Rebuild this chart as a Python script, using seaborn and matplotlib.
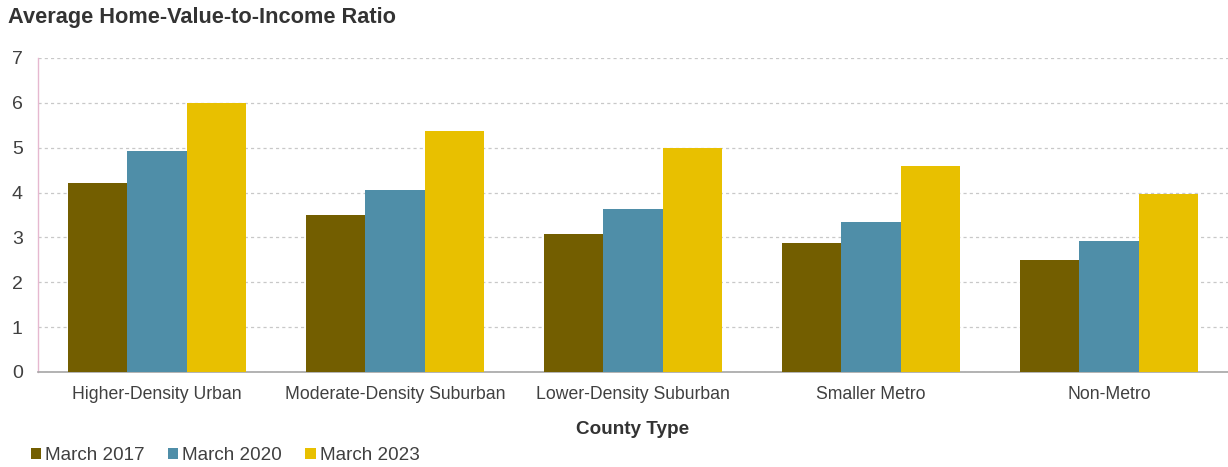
import matplotlib
matplotlib.use("Agg")
import matplotlib.pyplot as plt
import seaborn as sns
import pandas as pd
from matplotlib.ticker import MultipleLocator, FixedLocator

# Average home-value-to-income ratio by county type
county_types = ["Higher-Density Urban", "Moderate-Density Suburban",
                "Lower-Density Suburban", "Smaller Metro", "Non-Metro"]
periods = ["March 2017", "March 2020", "March 2023"]
ratio_2017 = [4.21, 3.50, 3.08, 2.87, 2.49]
ratio_2020 = [4.93, 4.05, 3.64, 3.35, 2.91]
ratio_2023 = [6.00, 5.37, 5.00, 4.59, 3.96]
period_colors = ["#735E00", "#4F8EA8", "#E8C000"]

rows = []
for period, vals in zip(periods, [ratio_2017, ratio_2020, ratio_2023]):
    for ct, v in zip(county_types, vals):
        rows.append({"County Type": ct, "Period": period, "Ratio": v})
df = pd.DataFrame(rows)

sns.set_theme(style="white")
plt.rcParams["font.family"] = ["Liberation Sans", "DejaVu Sans"]

fig = plt.figure(figsize=(12.28, 4.67), dpi=100)
ax = fig.add_axes([38 / 1228, 1 - 372 / 467, 1 - 38 / 1228, (372 - 58) / 467])

sns.barplot(data=df, x="County Type", y="Ratio", hue="Period",
            order=county_types, hue_order=periods,
            palette=period_colors, width=0.75, gap=0, linewidth=0,
            saturation=1, errorbar=None, ax=ax, zorder=3)

ax.set_xlim(-0.5, 4.5)
ax.set_ylim(0, 7)
ax.yaxis.set_major_locator(MultipleLocator(1))
ax.grid(axis="y", color="#c8c8c8", linestyle=(0, (2.5, 2.5)), linewidth=0.9, zorder=0)
ax.set_axisbelow(True)

for side in ["top", "right"]:
    ax.spines[side].set_visible(False)
ax.spines["left"].set_color("#e6b8d0")
ax.spines["left"].set_linewidth(1.0)
ax.spines["bottom"].set_color("#a6a6a6")
ax.spines["bottom"].set_linewidth(1.2)

ax.tick_params(axis="y", length=0, labelsize=14, labelcolor="#404040", pad=11)
ax.tick_params(axis="x", which="major", length=0, labelsize=12.7, labelcolor="#404040", pad=10)
ax.xaxis.set_minor_locator(FixedLocator([-0.5, 0.5, 1.5, 2.5, 3.5]))
ax.tick_params(axis="x", which="minor", length=5, width=1, color="#a6a6a6", direction="out")

ax.set_ylabel("")
ax.set_xlabel("County Type", fontsize=13.6, fontweight="bold", color="#333333", labelpad=13)

fig.text(8 / 1228, 1 - 17 / 467, "Average Home-Value-to-Income Ratio",
         fontsize=15.7, fontweight="bold", color="#333333", va="center", ha="left")

handles, labels = ax.get_legend_handles_labels()
ax.legend_.remove()
fig.legend(handles, labels, loc="center left", bbox_to_anchor=(31 / 1228, 1 - 456 / 467),
           ncol=3, frameon=False, fontsize=13.6, handlelength=0.55, handleheight=0.5,
           handletextpad=0.21, columnspacing=1.22, borderpad=0, borderaxespad=0,
           labelcolor="#404040")

fig.savefig("out.png", dpi=100)
